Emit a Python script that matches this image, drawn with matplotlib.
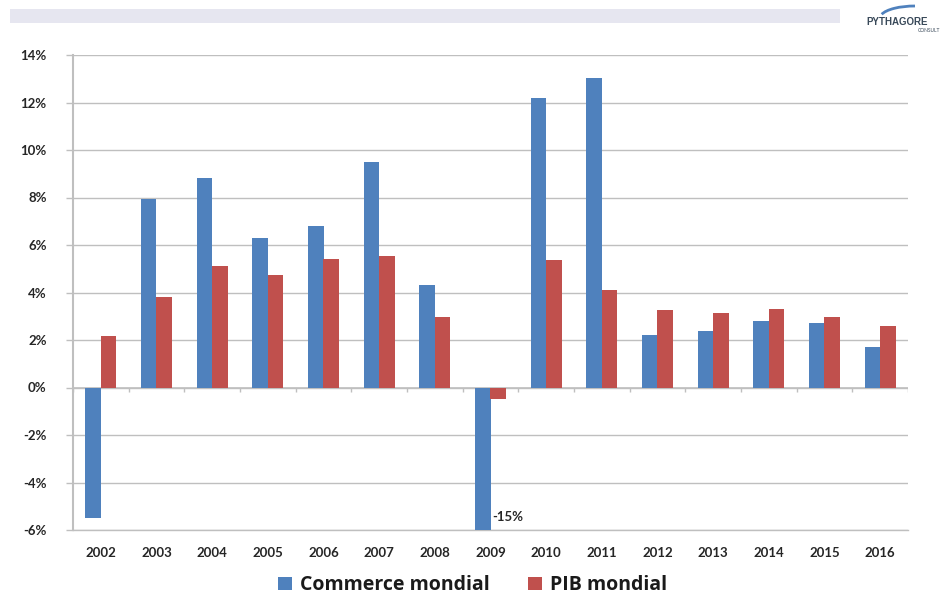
import matplotlib
matplotlib.use("Agg")
import matplotlib.pyplot as plt
import numpy as np
from matplotlib.patches import Rectangle, Arc

years = ["2002", "2003", "2004", "2005", "2006", "2007", "2008", "2009",
         "2010", "2011", "2012", "2013", "2014", "2015", "2016"]
commerce = [-5.5, 7.95, 8.8, 6.3, 6.8, 9.5, 4.3, -15.0, 12.2, 13.05, 2.2, 2.4, 2.8, 2.7, 1.7]
pib = [2.15, 3.8, 5.1, 4.75, 5.4, 5.55, 2.95, -0.5, 5.35, 4.1, 3.25, 3.15, 3.3, 2.95, 2.6]
yticks = [-6, -4, -2, 0, 2, 4, 6, 8, 10, 12, 14]
series_names = ["Commerce mondial", "PIB mondial"]
annotation = "-15%"

blue = "#4F81BD"
red = "#C0504D"
grid_col = "#BFBFBF"

plt.rcParams['font.family'] = ['Lato', 'DejaVu Sans']

fig = plt.figure(figsize=(9.45, 5.95), dpi=100)
ax = fig.add_axes([73/945, 1-530/595, 835/945, 475/595])

x = np.arange(len(years))
w = 0.28
ax.bar(x - w/2, commerce, w, color=blue, label=series_names[0], zorder=3)
ax.bar(x + w/2, pib, w, color=red, label=series_names[1], zorder=3)

ax.set_ylim(-6, 14)
ax.set_xlim(-0.5, len(years) - 0.5)
ax.set_yticks(yticks)
ax.set_yticklabels([f"{v}%" for v in yticks], fontsize=9.5, fontweight='bold', color='#262626')
ax.set_xticks(x)
ax.set_xticklabels(years, fontsize=9.5, fontweight='bold', color='#262626')
ax.tick_params(axis='x', length=0, pad=12)
ax.tick_params(axis='y', length=5, color=grid_col, width=1, pad=14)
ax.yaxis.grid(True, color=grid_col, linewidth=1, zorder=0)
for s in ['top', 'right']:
    ax.spines[s].set_visible(False)
ax.spines['left'].set_color(grid_col)
ax.spines['left'].set_linewidth(1.5)
ax.spines['bottom'].set_color(grid_col)
ax.spines['bottom'].set_linewidth(1)

# zero axis with category tick marks
ax.axhline(0, color=grid_col, linewidth=1.2, zorder=2)
bounds = np.arange(len(years) + 1) - 0.5
ax.vlines(bounds, -0.18, 0, color=grid_col, linewidth=1, zorder=2)

# annotation for 2009
i09 = years.index("2009")
ax.text(i09 + 0.03, -5.45, annotation, fontsize=9.5, fontweight='bold',
        color='#262626', ha='left', va='center', zorder=4)

leg = fig.legend(loc='lower center', bbox_to_anchor=(0.5, -0.03), ncol=2, frameon=False,
                 prop={'family': 'Open Sans', 'size': 14, 'weight': 'bold'},
                 handlelength=0.7, handleheight=0.7,
                 handletextpad=0.4, columnspacing=2.0)
for t in leg.get_texts():
    t.set_color('#1a1a1a')

# header band
fig.patches.append(Rectangle((10/945, 1-23/595), 830/945, 14/595, transform=fig.transFigure,
                             facecolor='#E6E6F0', edgecolor='none'))
# logo
fig.text(897/945, 1-22/595, "PYTHAGORE", fontsize=7, fontweight='bold', color='#3a4a5a',
         ha='center', va='center', family='Liberation Sans')
fig.text(940/945, 1-31/595, "CONSULT", fontsize=3.5, color='#3a4a5a', ha='right', va='center')
fig.patches.append(Arc((915/945, 1-18/595), 70/945, 24/595, theta1=90, theta2=170,
                       transform=fig.transFigure, color='#4F81BD', linewidth=2))

fig.savefig("out.png", dpi=100, facecolor='white')
